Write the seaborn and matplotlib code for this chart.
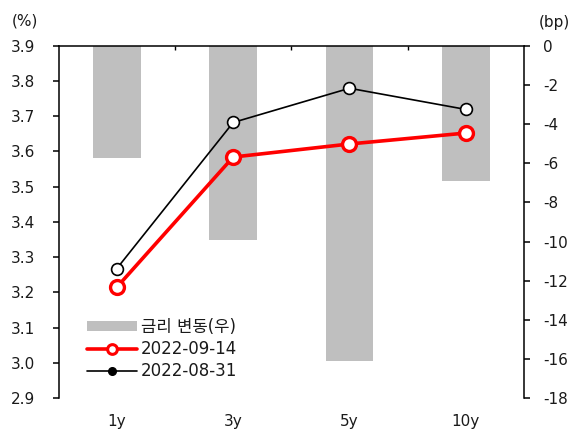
import numpy as np
import pandas as pd
import seaborn as sns
import matplotlib
matplotlib.use("Agg")
import matplotlib.pyplot as plt
from matplotlib.lines import Line2D
from matplotlib.patches import Patch

# Treasury yield curve: two dates plus the change between them
tenors = ["1y", "3y", "5y", "10y"]
yield_0914 = [3.215, 3.584, 3.621, 3.652]   # %, 2022-09-14
yield_0831 = [3.268, 3.682, 3.779, 3.719]   # %, 2022-08-31
change_bp = [-5.75, -9.93, -16.09, -6.92]   # bp, rate change (right axis)

left_ticks = [2.9, 3.0, 3.1, 3.2, 3.3, 3.4, 3.5, 3.6, 3.7, 3.8, 3.9]
right_ticks = [0, -2, -4, -6, -8, -10, -12, -14, -16, -18]

label_change = "금리 변동(우)"
label_0914 = "2022-09-14"
label_0831 = "2022-08-31"

sns.set_theme(style="white")
plt.rcParams["font.family"] = ["DejaVu Sans", "Noto Sans CJK KR"]
plt.rcParams["axes.unicode_minus"] = False

FS = 11
FS_LEG = 12
TXT = "#1a1a1a"
fig = plt.figure(figsize=(5.83, 4.32), dpi=100)
ax = fig.add_axes([0.1007, 0.078, 0.798, 0.8165])
ax2 = ax.twinx()

df = pd.DataFrame({"tenor": tenors, "y14": yield_0914, "y31": yield_0831, "bp": change_bp})

# bars on the right (bp) axis
sns.barplot(data=df, x="tenor", y="bp", color="#BFBFBF", saturation=1,
            width=0.41, ax=ax2, edgecolor="none", linewidth=0)

# yield lines on the left (%) axis
sns.lineplot(data=df, x="tenor", y="y31", ax=ax, sort=False, color="black",
             linewidth=1.2, marker="o", markersize=8.5, markerfacecolor="white",
             markeredgecolor="black", markeredgewidth=1.2, zorder=3)
sns.lineplot(data=df, x="tenor", y="y14", ax=ax, sort=False, color="#FF0000",
             linewidth=2.6, marker="o", markersize=10, markerfacecolor="white",
             markeredgecolor="#FF0000", markeredgewidth=2.4, zorder=4)

ax.set_zorder(ax2.get_zorder() + 1)
ax.patch.set_visible(False)

ax.set_xlim(-0.5, 3.5)
ax.set_ylim(2.9, 3.9)
ax2.set_ylim(-18, 0)
ax.set_yticks(left_ticks)
ax.set_yticklabels([f"{v:.1f}" for v in left_ticks])
ax2.set_yticks(right_ticks)
ax2.set_yticklabels([str(v) for v in right_ticks])

for a in (ax, ax2):
    a.set_xlabel("")
    a.set_ylabel("")
    for s in a.spines.values():
        s.set_visible(False)

ax.spines["left"].set_visible(True)
ax.spines["top"].set_visible(True)
ax2.spines["right"].set_visible(True)
for s in (ax.spines["left"], ax.spines["top"], ax2.spines["right"]):
    s.set_color("black")
    s.set_linewidth(1.1)

ax.set_xticks(range(len(tenors)))
ax.set_xticklabels(tenors)
ax.set_xticks([0.5, 1.5, 2.5], minor=True)
ax.tick_params(axis="x", which="major", length=0, pad=11, labelsize=FS,
               labelcolor=TXT, bottom=False, top=False)
ax.tick_params(axis="x", which="minor", direction="in", length=3, width=1,
               color="black", top=True, bottom=False)
ax.tick_params(axis="y", left=True, direction="out", length=4, width=1.1,
               color="black", pad=13, labelsize=FS, labelcolor=TXT)
ax2.tick_params(axis="y", right=True, direction="out", length=4, width=1.1,
                color="black", pad=10, labelsize=FS, labelcolor=TXT)
ax2.tick_params(axis="x", bottom=False, top=False, labelbottom=False)

fig.text(25 / 583, 1 - 21 / 432, "(%)", ha="center", va="center", fontsize=FS, color=TXT)
fig.text(554 / 583, 1 - 23 / 432, "(bp)", ha="center", va="center", fontsize=FS, color=TXT)

handles = [
    Patch(facecolor="#BFBFBF", edgecolor="none"),
    Line2D([], [], color="#FF0000", linewidth=2.6, marker="o", markersize=7,
           markerfacecolor="white", markeredgecolor="#FF0000", markeredgewidth=2.2),
    Line2D([], [], color="black", linewidth=1.2, marker="o", markersize=5.5,
           markerfacecolor="black", markeredgecolor="black"),
]
leg = ax.legend(handles, [label_change, label_0914, label_0831],
                loc="upper left", bbox_to_anchor=(87 / 583, 1 - 318 / 432),
                bbox_transform=fig.transFigure, frameon=False, fontsize=FS_LEG,
                handlelength=3.0, handleheight=0.6, handletextpad=0.25,
                labelspacing=0.25, borderpad=0, borderaxespad=0)
for t in leg.get_texts():
    t.set_color(TXT)

fig.savefig("out.png", dpi=100)
